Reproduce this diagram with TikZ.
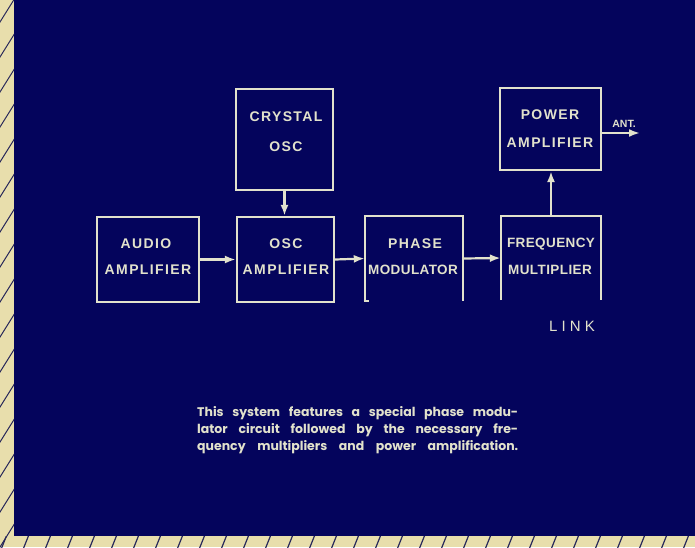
\documentclass[tikz,border=0pt]{standalone}
\usepackage{fontspec}
\setmainfont{Liberation Sans}
\newfontfamily\boxfont[LetterSpace=10]{Liberation Sans}
\newfontfamily\tightfont[LetterSpace=3]{Liberation Sans}
\newfontfamily\linkfont[LetterSpace=28]{Liberation Sans}
\newfontfamily\capfont{Poppins}
\usetikzlibrary{arrows.meta}
\definecolor{navy}{RGB}{4,4,92}
\definecolor{ink}{RGB}{226,226,204}
\definecolor{paper}{RGB}{232,222,172}
\definecolor{hatch}{RGB}{40,40,90}
\begin{document}
\begin{tikzpicture}[x=1pt,y=-1pt,
  blk/.style={draw=ink,line width=2.2pt,minimum width=#1,inner sep=0pt},
  obox/.style={inner sep=0pt,minimum width=#1},
  lbl/.style={text=ink,font=\boxfont\bfseries\fontsize{14}{16}\selectfont,inner sep=0pt},
  lblt/.style={text=ink,font=\tightfont\bfseries\fontsize{13.5}{16}\selectfont,inner sep=0pt},
  arr/.style={draw=ink,line width=2.2pt,-{Latex[length=11pt,width=8pt]}},
  wire/.style={draw=ink,line width=2.2pt}]
\useasboundingbox (0,0) rectangle (695,547);
% background
\fill[paper] (0,0) rectangle (695,547);
\fill[navy] (14,0) rectangle (695,536);
\begin{scope}
\clip (0,0) rectangle (14,547);
\foreach \k in {0,35,...,600} \draw[hatch,line width=1pt] (-5,\k+30) -- (20,\k-10);
\end{scope}
\begin{scope}
\clip (0,536) rectangle (695,547);
\foreach \k in {0,22,...,720} \draw[hatch,line width=1.2pt] (\k,552) -- (\k+8,532);
\end{scope}
% boxes
\node[blk=97pt,minimum height=101pt] (cry) at (284.5,139.5) {};
\node[blk=101pt,minimum height=82pt] (pow) at (550.5,129) {};
\node[blk=102pt,minimum height=85pt] (aud) at (148,259.5) {};
\node[blk=97pt,minimum height=85pt] (osc) at (285.5,259.5) {};
\node[obox=98pt,minimum height=85pt] (pm) at (414,258.5) {};
\node[obox=100pt,minimum height=84pt] (fm) at (551,258) {};
\draw[wire] (pm.south west) -- (pm.north west) -- (pm.north east) -- (pm.south east);
\draw[wire] ([xshift=-1.1pt]pm.south west) -- ([xshift=4pt]pm.south west);
\draw[wire] (fm.south west) -- (fm.north west) -- (fm.north east) -- (fm.south east);
% labels
\node[lbl] (t1) at (286,117) {CRYSTAL};
\node[lbl] (t2) at (286,147) {OSC};
\node[lbl] (t3) at (550,115) {POWER};
\node[lbl] (t4) at (550,143) {AMPLIFIER};
\node[lbl] (t5) at (146,244) {AUDIO};
\node[lbl] (t6) at (148,270) {AMPLIFIER};
\node[lbl] (t7) at (286,244) {OSC};
\node[lbl] (t8) at (286,270) {AMPLIFIER};
\node[lbl] (t9) at (415,244) {PHASE};
\node[lblt] (t10) at (413,270) {MODULATOR};
\node[lblt] (t11) at (551,244) {FREQUENCY};
\node[lblt] (t12) at (550,270) {MULTIPLIER};
\node[text=ink,font=\linkfont\fontsize{15}{17}\selectfont,inner sep=0pt] (link) at (572,326) {LINK};
\node[text=ink,font=\bfseries\fontsize{10.5}{12}\selectfont,inner sep=0pt] (antl) at (624,124) {ANT.};
% connectors
\draw[arr] (aud.east) -- (osc.west);
\draw[arr] (osc.east) -- (pm.west);
\draw[arr] (pm.east) -- (fm.west);
\draw[arr] (cry.south) -- (cry.south |- osc.north);
\draw[arr] (fm.north) -- (fm.north |- pow.south);
\coordinate (ant) at (640,133);
\draw[arr] (pow.east |- ant) -- (ant);
% caption
\begin{scope}[every node/.style={text=ink,anchor=west,inner sep=0pt,font=\capfont\bfseries\fontsize{12.5}{14}\selectfont}]
\node (c1) at (197,413) {\makebox[321pt][s]{This system features a special phase modu-}};
\node (c2) at (197,430) {\makebox[321pt][s]{lator circuit followed by the necessary fre-}};
\node (c3) at (197,447) {\makebox[321pt][s]{quency multipliers and power amplification.}};
\end{scope}
\end{tikzpicture}
\end{document}
